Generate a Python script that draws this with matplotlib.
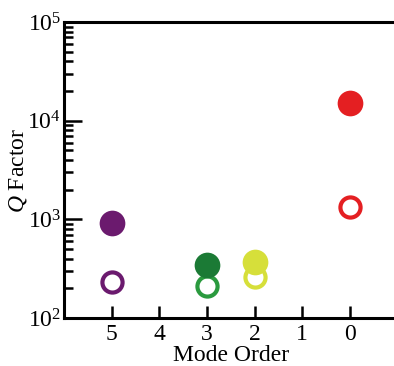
import numpy as np
import matplotlib
matplotlib.use("Agg")
import matplotlib.pyplot as plt
from matplotlib.ticker import LogLocator, NullFormatter

modes = [5, 3, 2, 0]
q_filled = [915, 345, 372, 15000]
q_open = [233, 209, 262, 1320]
fill_colors = ["#6b1a6e", "#1b7a35", "#d6df3a", "#e41f22"]
open_colors = ["#6b1a6e", "#2a9a3e", "#d6df3a", "#e41f22"]

plt.rcParams["font.family"] = ["Liberation Serif", "DejaVu Serif"]
plt.rcParams["mathtext.fontset"] = "custom"
plt.rcParams["mathtext.rm"] = "Liberation Serif"
plt.rcParams["mathtext.it"] = "Liberation Serif:italic"

fig = plt.figure(figsize=(3.94, 3.66), dpi=100)
ax = fig.add_axes([64 / 394, 1 - 318 / 366, 333.6 / 394, 296 / 366])

for m, q, c in zip(modes, q_open, open_colors):
    ax.plot(m, q, "o", ms=14.5, mfc="white", mec=c, mew=3.0, zorder=3)
for m, q, c in zip(modes, q_filled, fill_colors):
    ax.plot(m, q, "o", ms=18.5, mfc=c, mec=c, mew=0, zorder=4)

ax.set_yscale("log")
ax.set_ylim(1e2, 1e5)
ax.set_xlim(6, -1)
ax.set_xticks([5, 4, 3, 2, 1, 0])
ax.yaxis.set_major_locator(LogLocator(base=10, numticks=10))
ax.yaxis.set_minor_locator(LogLocator(base=10, subs=np.arange(2, 10), numticks=20))
ax.yaxis.set_minor_formatter(NullFormatter())

for s in ax.spines.values():
    s.set_linewidth(2.2)
ax.tick_params(axis="both", which="major", direction="in", width=1.8, labelsize=17)
ax.tick_params(axis="x", which="major", length=9, top=False, pad=4)
ax.tick_params(axis="y", which="major", length=13, right=False, pad=2)
ax.tick_params(axis="y", which="minor", direction="in", length=6.5, width=1.8, right=False)
ax.tick_params(axis="x", which="minor", bottom=False, top=False)

ax.set_xlabel("Mode Order", fontsize=17, labelpad=0)
ax.set_ylabel("$\\mathit{Q}$ Factor", fontsize=17, labelpad=-1)

fig.savefig("out.png", dpi=100)
